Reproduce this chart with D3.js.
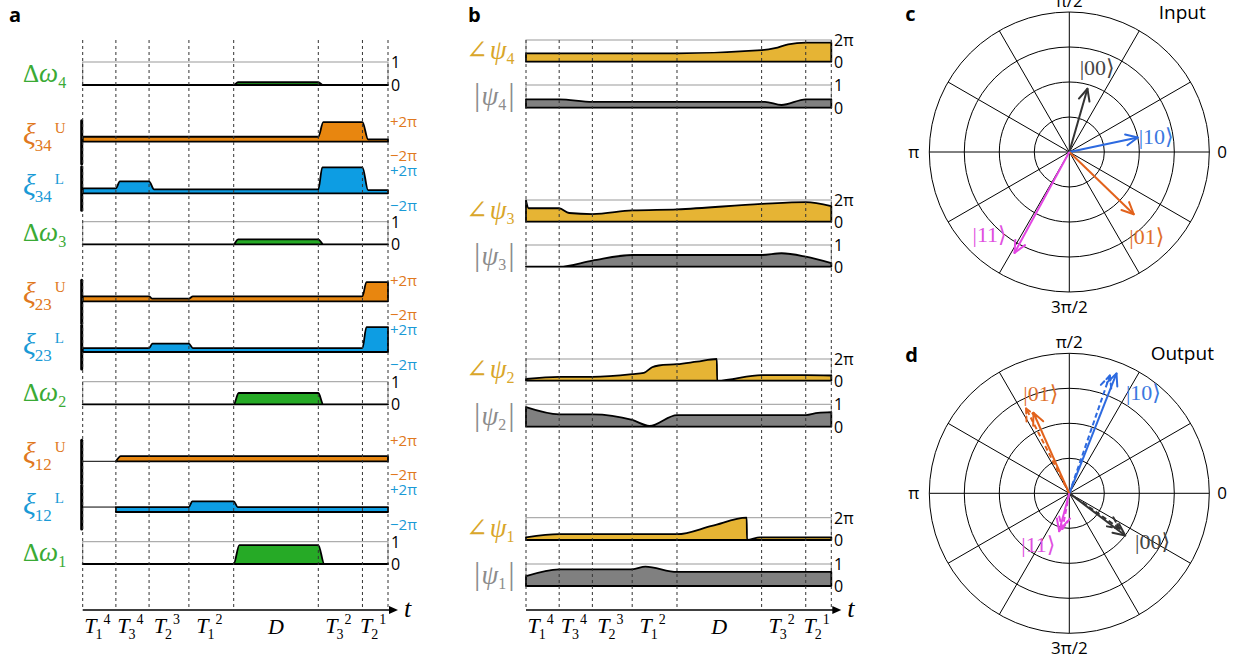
<!DOCTYPE html>
<html>
<head>
<meta charset="utf-8">
<script src="https://cdn.jsdelivr.net/npm/d3@7"></script>
<style>
body { margin: 0; background: #fff; }
text { font-family: "Open Sans", "DejaVu Sans", sans-serif; }
.serif, .serif tspan { font-family: "Liberation Serif", "DejaVu Serif", serif; }
</style>
</head>
<body>
<div id="chart"></div>
<script>
// ---- time axis (arbitrary units) ----
const tBounds = [0, 1, 2, 3.2, 4.55, 7.1, 8.43, 9.2];
const tNames = ["T", "T", "T", "T", "D", "T", "T"];
const tSubs = ["1", "3", "2", "1", "", "3", "2"];
const tSups = ["4", "4", "3", "2", "", "2", "1"];

// ---- panel a : detunings (0..1) ----
const dOmega4 = [[0, 0], [4.55, 0], [4.68, 0.12], [7.1, 0.12], [7.25, 0], [9.2, 0]];
const dOmega3 = [[0, 0], [4.55, 0], [4.68, 0.22], [7.1, 0.22], [7.25, 0], [9.2, 0]];
const dOmega2 = [[0, 0], [4.55, 0], [4.7, 0.5], [7.1, 0.5], [7.25, 0], [9.2, 0]];
const dOmega1 = [[0, 0], [4.55, 0], [4.72, 0.85], [7.1, 0.85], [7.28, 0], [9.2, 0]];

// ---- panel a : phases xi (units of 2pi) ----
const xi34U = [[0, 0.19], [7.1, 0.19], [7.25, 0.75], [8.43, 0.75], [8.6, 0.09], [9.2, 0.09]];
const xi34L = [[0, 0.19], [1, 0.19], [1.12, 0.46], [2, 0.46], [2.15, 0.15], [7.1, 0.15], [7.22, 1.0], [8.43, 1.0], [8.6, 0.12], [9.2, 0.12]];
const xi23U = [[0, 0.19], [2, 0.19], [2.1, 0.1], [3.2, 0.1], [3.32, 0.19], [8.43, 0.19], [8.55, 0.74], [9.2, 0.74]];
const xi23L = [[0, 0.15], [2, 0.15], [2.1, 0.32], [3.2, 0.32], [3.32, 0.15], [8.43, 0.15], [8.55, 0.96], [9.2, 0.96]];
const xi12U = [[1, 0], [1.15, 0.2], [9.2, 0.2]];
const xi12L = [[1, 0.19], [3.2, 0.19], [3.3, 0.41], [4.55, 0.41], [4.67, 0.19], [9.2, 0.19]];
const xi12Uoff = [[0, 0], [1, 0]];
const xi12Loff = [[0, 0.19], [1, 0.19]];

// ---- panel b : qubit states ----
const ang4 = [[0, 0.38], [4.55, 0.38], [7.1, 0.53], [7.5, 0.62], [7.9, 0.8], [8.43, 0.88], [9.2, 0.88]];
const mag4 = [[0, 0.37], [1, 0.37], [2, 0.26], [7.2, 0.26], [7.7, 0.12], [8.43, 0.37], [9.2, 0.37]];
const ang3 = [[0, 0.98], [0.08, 0.62], [1, 0.62], [1.3, 0.4], [2, 0.35], [3.2, 0.52], [4.55, 0.57], [7.1, 0.82], [8.43, 0.9], [9.2, 0.72]];
const mag3 = [[0, 0], [1, 0], [2, 0.28], [3.2, 0.54], [7.1, 0.54], [7.7, 0.62], [8.43, 0.46], [9.2, 0.16]];
const ang2 = [[0, 0.08], [1, 0.18], [2, 0.18], [3.2, 0.3], [3.55, 0.36], [3.8, 0.62], [4.0, 0.7], [4.55, 0.76], [5.15, 0.88], [5.75, 1.0], [5.76, 0], [7.1, 0.26], [8.43, 0.26], [9.2, 0.24]];
const mag2 = [[0, 0.87], [1, 0.55], [2, 0.55], [3.2, 0.3], [3.72, 0.04], [4.55, 0.52], [8.43, 0.52], [8.8, 0.62], [9.2, 0.65]];
const ang1 = [[0, 0.12], [1, 0.26], [4.55, 0.26], [5.6, 0.63], [6.65, 1.0], [6.66, 0], [7.05, 0.12], [9.2, 0.12]];
const mag1 = [[0, 0.45], [1, 0.76], [3.2, 0.76], [3.6, 0.88], [4.55, 0.64], [9.2, 0.64]];

// ---- panels c, d : phasors (amplitude, phase in degrees) ----
const stateNames = ["|00\u27E9", "|10\u27E9", "|01\u27E9", "|11\u27E9"];
const inAmp = [0.47, 0.5, 0.64, 0.82];
const inPhase = [74, 12, -44, 241.5];
const outAmp = [0.5, 0.92, 0.63, 0.28];
const outPhase = [-37, 68.5, 114, 255];
const outAmpSim = [0.44, 0.89, 0.68, 0.26];
const outPhaseSim = [-35, 71, 117, 259];
const inLabR = [0.63, 0.63, 0.82, 0.82];
const inLabA = [71.6, 9.8, -47.5, 226];
const outLabR = [0.69, 0.89, 0.74, 0.43];
const outLabA = [-30.5, 53.5, 106, 239];

const green = "#26aa26", orange = "#e8860f", blue = "#0d9de3";
const gold = "#e6b434", grey = "#808080";
const arrowCol = ["#333333", "#2d6ae0", "#e2621c", "#e346e3"];
const labelCol = ["#444444", "#3a78e0", "#e0702a", "#e050e0"];

const svg = d3.select("#chart").append("svg").attr("width", 1240).attr("height", 661);

const xa = d3.scaleLinear().domain([0, 9.2]).range([82.7, 388]);
const xb = d3.scaleLinear().domain([0, 9.2]).range([526, 831.3]);

function rich(g, x, y, parts, cls, color, anchor) {
    const t = g.append("text").attr("x", x).attr("y", y)
        .attr("class", cls || "serif").attr("fill", color || "#000")
        .attr("text-anchor", anchor || "start");
    parts.forEach(p => {
        t.append("tspan").text(p.s)
            .attr("dx", p.dx || 0).attr("dy", p.dy || 0)
            .style("font-size", p.size + "px")
            .style("font-style", p.it ? "italic" : "normal");
    });
    return t;
}

function areaPlot(g, x, y, data, fill) {
    const area = d3.area()
        .x(d => x(d[0])).y0(y(0)).y1(d => y(d[1]))
        .curve(d3.curveMonotoneX);
    g.append("path").datum(data).attr("d", area)
        .attr("fill", fill).attr("stroke", "#000")
        .attr("stroke-width", 1.8).attr("stroke-linejoin", "round");
}

function box(g, x, y) {
    g.append("rect")
        .attr("x", x.range()[0]).attr("y", y.range()[1])
        .attr("width", x.range()[1] - x.range()[0])
        .attr("height", y.range()[0] - y.range()[1])
        .attr("fill", "#fff").attr("stroke", "#999").attr("stroke-width", 1);
}

// ================= panel a =================
const ga = svg.append("g");
ga.append("text").attr("x", 9).attr("y", 22).text("a")
    .style("font-size", "20px").style("font-weight", "bold");

const dwRows = [
    { data: dOmega4, top: 62, bot: 85, n: "4" },
    { data: dOmega3, top: 221.7, bot: 244.3, n: "3" },
    { data: dOmega2, top: 381.7, bot: 404.3, n: "2" },
    { data: dOmega1, top: 541.7, bot: 564, n: "1" }
];
dwRows.forEach(r => {
    const y = d3.scaleLinear().domain([0, 1]).range([r.bot, r.top]);
    box(ga, xa, y);
    areaPlot(ga, xa, y, r.data, green);
    ga.append("text").attr("x", 391).attr("y", y(1) + 6).text("1").style("font-size", "16px");
    ga.append("text").attr("x", 391).attr("y", y(0) + 6).text("0").style("font-size", "16px");
    rich(ga, 23, (r.top + r.bot) / 2 + 8, [
        { s: "\u0394", size: 25 }, { s: "\u03C9", size: 27, it: true },
        { s: r.n, size: 16, dy: 6 }
    ], "serif", "#3aaa35");
});

const xiRows = [
    { data: xi34U, y0: 141.7, side: "U", n: "34" },
    { data: xi34L, y0: 193.3, side: "L", n: "34" },
    { data: xi23U, y0: 301.3, side: "U", n: "23" },
    { data: xi23L, y0: 352, side: "L", n: "23" },
    { data: xi12U, y0: 461.3, side: "U", n: "12", off: xi12Uoff },
    { data: xi12L, y0: 512, side: "L", n: "12", off: xi12Loff }
];
xiRows.forEach(r => {
    const y = d3.scaleLinear().domain([0, 1]).range([r.y0, r.y0 - 26]);
    const U = r.side === "U";
    const col = U ? orange : blue;
    const txt = U ? "#e07820" : "#1a9ad6";
    if (r.off) {
        ga.append("path").datum(r.off)
            .attr("d", d3.line().x(d => xa(d[0])).y(d => y(d[1])))
            .attr("fill", "none").attr("stroke", "#000").attr("stroke-width", 1);
    }
    areaPlot(ga, xa, y, r.data, col);
    ga.append("line")
        .attr("x1", xa(0) - 1).attr("x2", xa(0) - 1)
        .attr("y1", U ? r.y0 - 21 : r.y0 - 26.5).attr("y2", U ? r.y0 + 22 : r.y0 + 17)
        .attr("stroke", "#000").attr("stroke-width", 3).attr("stroke-linecap", "round");
    ga.append("text").attr("x", 390).attr("y", r.y0 + (U ? -15 : -17))
        .text("+2\u03C0").attr("fill", txt).style("font-size", "15px");
    ga.append("text").attr("x", 390).attr("y", r.y0 + (U ? 19 : 18))
        .text("\u22122\u03C0").attr("fill", txt).style("font-size", "15px");
    rich(ga, 23, r.y0 + 2, [
        { s: "\u03BE", size: 30, it: true },
        { s: r.n, size: 17, dy: 7, dx: -1 },
        { s: r.side, size: 15, dy: -18, dx: 3 }
    ], "serif", txt);
});

// ================= panel b =================
const gb = svg.append("g");
gb.append("text").attr("x", 468).attr("y", 22).text("b")
    .style("font-size", "20px").style("font-weight", "bold");

const psiRows = [
    { data: ang4, top: 40, bot: 61.7, ang: true, n: "4" },
    { data: mag4, top: 85, bot: 107.7, ang: false, n: "4" },
    { data: ang3, top: 200, bot: 221.7, ang: true, n: "3" },
    { data: mag3, top: 245, bot: 266.7, ang: false, n: "3" },
    { data: ang2, top: 359, bot: 380.7, ang: true, n: "2" },
    { data: mag2, top: 404.3, bot: 426.7, ang: false, n: "2" },
    { data: ang1, top: 517.7, bot: 540, ang: true, n: "1" },
    { data: mag1, top: 564, bot: 586, ang: false, n: "1" }
];
psiRows.forEach(r => {
    const y = d3.scaleLinear().domain([0, 1]).range([r.bot, r.top]);
    box(gb, xb, y);
    areaPlot(gb, xb, y, r.data, r.ang ? gold : grey);
    gb.append("text").attr("x", 834).attr("y", y(1) + 6).text(r.ang ? "2\u03C0" : "1").style("font-size", "16px");
    gb.append("text").attr("x", 834).attr("y", y(0) + 6).text("0").style("font-size", "16px");
    const cy = (r.top + r.bot) / 2;
    if (r.ang) {
        rich(gb, 466, cy + 8, [
            { s: "\u2220", size: 26 }, { s: "\u03C8", size: 27, it: true, dx: 2 },
            { s: r.n, size: 16, dy: 5 }
        ], "serif", "#d9a62a");
    } else {
        rich(gb, 474, cy + 9, [
            { s: "|", size: 32 }, { s: "\u03C8", size: 27, it: true, dx: 1 },
            { s: r.n, size: 16, dy: 5 }, { s: "|", size: 32, dy: -5, dx: 2 }
        ], "serif", "#8c8c8c");
    }
});

// ================= dashed guides + time axes =================
[[ga, xa], [gb, xb]].forEach(([g, x]) => {
    g.selectAll(".guide").data(tBounds).enter().append("line")
        .attr("class", "guide")
        .attr("x1", d => x(d)).attr("x2", d => x(d))
        .attr("y1", 40).attr("y2", 610)
        .attr("stroke", "#333").attr("stroke-width", 1).attr("stroke-dasharray", "3,3");
    const x1 = x.range()[0], x2 = x.range()[1] + 10;
    g.append("line").attr("x1", x1).attr("x2", x2 - 4).attr("y1", 610).attr("y2", 610)
        .attr("stroke", "#000").attr("stroke-width", 1.5);
    g.append("path").attr("d", `M${x2},610 l-9,-4 l0,8 z`).attr("fill", "#000");
    rich(g, x2 + 6, 617, [{ s: "t", size: 26, it: true }], "serif");
    tNames.forEach((nm, i) => {
        const mid = x((tBounds[i] + tBounds[i + 1]) / 2);
        if (nm === "D") {
            rich(g, mid, 634, [{ s: "D", size: 22, it: true }], "serif", "#000", "middle");
        } else {
            rich(g, mid - 2, 633, [
                { s: nm, size: 22, it: true },
                { s: tSubs[i], size: 14, dy: 6, dx: -1 },
                { s: tSups[i], size: 14, dy: -15, dx: 1 }
            ], "serif", "#000", "middle");
        }
    });
});

// ================= panels c, d =================
function polar(letter, title, cx, cy, sets, labR, labA) {
    const g = svg.append("g").attr("transform", `translate(${cx},${cy})`);
    const r = d3.scaleLinear().domain([0, 1]).range([0, 140]);
    const pt = (a, deg) => [r(a) * Math.cos(deg * Math.PI / 180), -r(a) * Math.sin(deg * Math.PI / 180)];

    g.selectAll(".ring").data([0.25, 0.5, 0.75, 1]).enter().append("circle")
        .attr("r", d => r(d)).attr("fill", "none").attr("stroke", "#000").attr("stroke-width", 1);
    g.selectAll(".spoke").data(d3.range(0, 180, 30)).enter().append("line")
        .attr("x1", d => pt(1, d)[0]).attr("y1", d => pt(1, d)[1])
        .attr("x2", d => pt(1, d + 180)[0]).attr("y2", d => pt(1, d + 180)[1])
        .attr("stroke", "#000").attr("stroke-width", 1);

    g.append("text").attr("x", 0).attr("y", -r(1) - 5).attr("text-anchor", "middle").text("\u03C0/2").style("font-size", "17px");
    g.append("text").attr("x", 0).attr("y", r(1) + 21).attr("text-anchor", "middle").text("3\u03C0/2").style("font-size", "17px");
    g.append("text").attr("x", -r(1) - 10).attr("y", 6).attr("text-anchor", "end").text("\u03C0").style("font-size", "17px");
    g.append("text").attr("x", r(1) + 8).attr("y", 6).text("0").style("font-size", "17px");
    g.append("text").attr("x", -164).attr("y", -131).text(letter).style("font-size", "20px").style("font-weight", "bold");
    g.append("text").attr("x", 113).attr("y", -133).attr("text-anchor", "middle").text(title).style("font-size", "19px");

    sets.forEach(s => {
        s.amp.forEach((a, i) => {
            const [tx, ty] = pt(a, s.ph[i]);
            const dash = s.dashed ? "5,3" : null;
            g.append("line").attr("x1", 0).attr("y1", 0).attr("x2", tx).attr("y2", ty)
                .attr("stroke", arrowCol[i]).attr("stroke-width", 2).attr("stroke-dasharray", dash);
            const back = (s.ph[i] + 180) * Math.PI / 180;
            [-25, 25].forEach(o => {
                const b = back + o * Math.PI / 180;
                g.append("line").attr("x1", tx).attr("y1", ty)
                    .attr("x2", tx + 13 * Math.cos(b)).attr("y2", ty - 13 * Math.sin(b))
                    .attr("stroke", arrowCol[i]).attr("stroke-width", 2)
                    .attr("stroke-linecap", "round").attr("stroke-dasharray", dash);
            });
        });
    });

    stateNames.forEach((nm, i) => {
        const [lx, ly] = pt(labR[i], labA[i]);
        g.append("text").attr("class", "serif").attr("x", lx).attr("y", ly + 7)
            .attr("text-anchor", "middle").attr("fill", labelCol[i])
            .text(nm).style("font-size", "22px");
    });
}

polar("c", "Input", 1069.3, 152, [{ amp: inAmp, ph: inPhase }], inLabR, inLabA);
polar("d", "Output", 1069.3, 493.3, [
    { amp: outAmpSim, ph: outPhaseSim, dashed: true },
    { amp: outAmp, ph: outPhase }
], outLabR, outLabA);
</script>
</body>
</html>
